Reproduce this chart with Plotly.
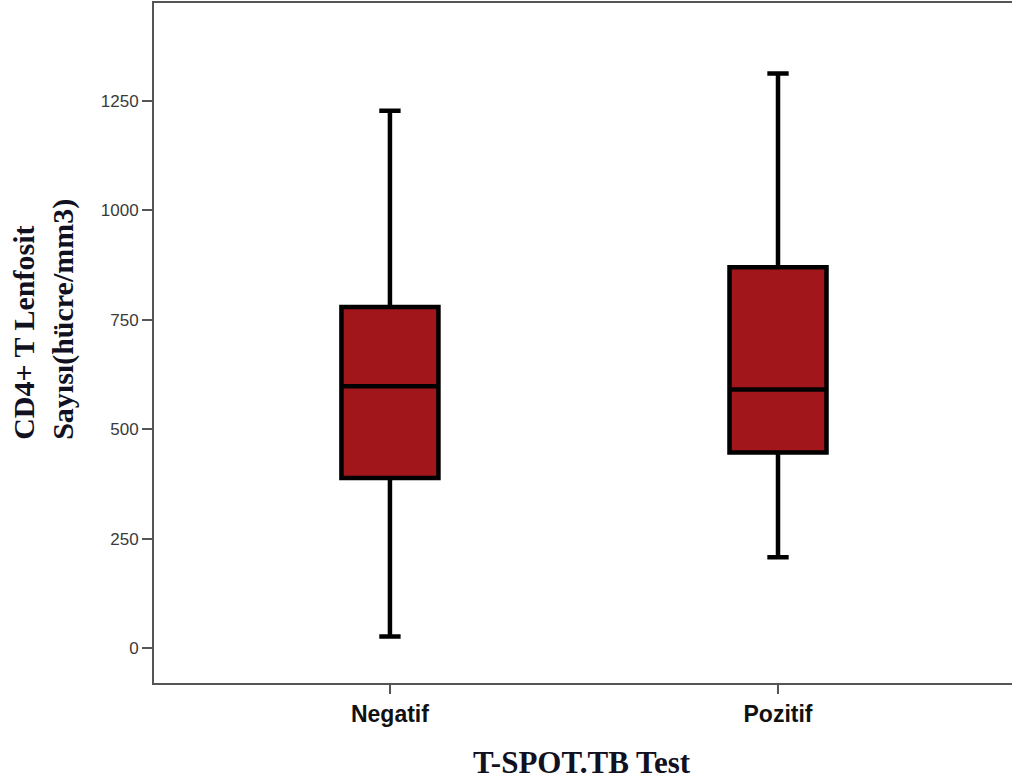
import plotly.graph_objects as go

categories = ["Negatif", "Pozitif"]
lower_whisker = [27, 208]
q1_values = [389, 447]
median_values = [598, 591]
q3_values = [779, 870]
upper_whisker = [1227, 1312]
y_ticks = [0, 250, 500, 750, 1000, 1250]

fig = go.Figure()
fig.add_trace(go.Box(
    x=categories,
    q1=q1_values,
    median=median_values,
    q3=q3_values,
    lowerfence=lower_whisker,
    upperfence=upper_whisker,
    fillcolor="#A1161B",
    line=dict(color="black", width=4.5),
    whiskerwidth=0.22,
    width=0.25,
    boxpoints=False,
    showlegend=False,
))

fig.update_layout(
    width=1012, height=783,
    margin=dict(l=154, r=0, t=3, b=100),
    plot_bgcolor="white", paper_bgcolor="white",
    showlegend=False,
    xaxis=dict(
        range=[-0.608, 1.603],
        showline=True, linecolor="#555555", linewidth=2, mirror=True,
        ticks="outside", ticklen=9, tickwidth=2, tickcolor="#555555",
        showgrid=False, zeroline=False,
        tickfont=dict(family="Liberation Sans, Arial", size=23, color="#111111", weight="bold"),
    ),
    yaxis=dict(
        range=[-79.2, 1473],
        tickvals=y_ticks,
        ticktext=[str(v) for v in y_ticks],
        showline=True, linecolor="#555555", linewidth=2,
        ticks="outside", ticklen=10, tickwidth=2, tickcolor="#555555",
        showgrid=False, zeroline=False,
        tickfont=dict(family="Liberation Sans, Arial", size=17, color="#3a3a3a"),
    ),
    annotations=[
        dict(text="<b>T-SPOT.TB Test</b>", xref="paper", yref="paper",
             x=0.499, y=-0.117, xanchor="center", yanchor="middle", showarrow=False,
             font=dict(family="Liberation Serif, Times New Roman", size=31, color="#111122")),
        dict(text="<b>CD4+ T Lenfosit<br>Sayısı(hücre/mm3)</b>", xref="paper", yref="paper",
             x=-0.129, y=0.5345, xanchor="center", yanchor="middle", showarrow=False,
             textangle=-90, align="left",
             font=dict(family="Liberation Serif, Times New Roman", size=30, color="#111122")),
    ],
)

fig.write_html("out.html", config={"displayModeBar": False})

with open("out.html", "r", encoding="utf-8") as f:
    html = f.read()
html = html.replace("<head>", "<head><style>html,body{margin:0;padding:0;overflow:hidden;}</style>", 1)
with open("out.html", "w", encoding="utf-8") as f:
    f.write(html)
